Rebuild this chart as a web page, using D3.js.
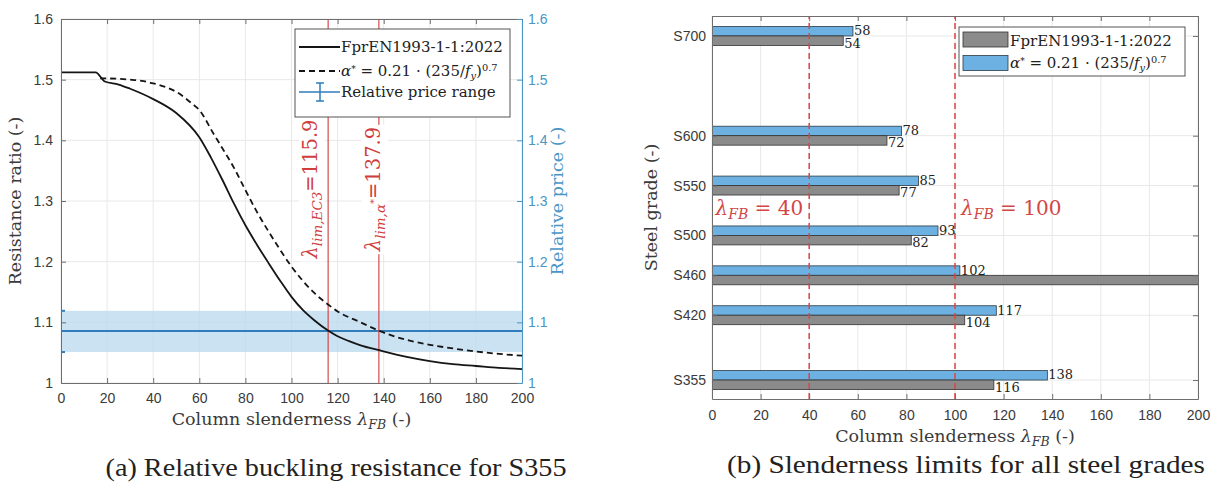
<!DOCTYPE html>
<html>
<head>
<meta charset="utf-8">
<script src="https://d3js.org/d3.v7.min.js"></script>
<style>
body { margin: 0; background: #fff; }
</style>
</head>
<body>
<svg id="fig" width="1216" height="488"></svg>
<script>

// ---------- panel (a) data ----------
var slenderEC3 = [0, 15, 19, 25, 30, 40, 50, 60, 65, 70, 75, 80, 85, 90, 95, 100, 105, 110, 116, 120, 125, 130, 138, 150, 160, 170, 180, 190, 200];
var ratioEC3   = [1.512, 1.512, 1.497, 1.492, 1.485, 1.468, 1.445, 1.405, 1.372, 1.335, 1.296, 1.260, 1.228, 1.198, 1.169, 1.142, 1.120, 1.103, 1.086, 1.077, 1.069, 1.062, 1.054, 1.043, 1.036, 1.031, 1.028, 1.025, 1.023];

var slenderAlpha = [17, 20, 30, 35, 40, 46, 50, 57, 60, 66, 70, 75, 80, 85, 90, 95, 100, 105, 110, 116, 120, 130, 138, 150, 160, 170, 180, 190, 200];
var ratioAlpha   = [1.502, 1.502, 1.500, 1.498, 1.494, 1.487, 1.480, 1.460, 1.450, 1.412, 1.387, 1.355, 1.318, 1.282, 1.250, 1.220, 1.192, 1.168, 1.148, 1.129, 1.118, 1.100, 1.086, 1.071, 1.063, 1.057, 1.052, 1.048, 1.045];

var priceRange = [1.051, 1.0857, 1.119];   // low, mid, high
var lambdaLim = [115.9, 137.9];            // EC3, alpha*
var ratioTicks = [1, 1.1, 1.2, 1.3, 1.4, 1.5, 1.6];
var slenderTicks = [0, 20, 40, 60, 80, 100, 120, 140, 160, 180, 200];

// ---------- panel (b) data ----------
var grades = ["S355", "S420", "S460", "S500", "S550", "S600", "S700"];
var fyValues = [355, 420, 460, 500, 550, 600, 700];
var limitAlpha = [138, 117, 102, 93, 85, 78, 58];
var limitEC3 = [116, 104, 250, 82, 77, 72, 54];   // S460 runs off the scale
var refLambdas = [40, 100];

var serif = "'DejaVu Serif', serif";          // stands in for the LaTeX font
var times = "'Liberation Serif', 'Times New Roman', serif";
var sans = "'Liberation Sans', Arial, sans-serif";
var axisCol = "#6e6e6e", gridCol = "#e8e8e8", textCol = "#3a3a3a";
var blueAxis = "#4a96c6", priceCol = "#2f7dbb", redCol = "#cf3d3d";

var svg = d3.select("#fig");
var defs = svg.append("defs");

// ====================== PANEL (a) ======================
var xa = d3.scaleLinear().domain([0, 200]).range([61, 522]);
var ya = d3.scaleLinear().domain([1, 1.6]).range([383, 19]);
var yp = d3.scaleLinear().domain([1, 1.6]).range([383, 19]);

defs.append("clipPath").attr("id", "clipA")
  .append("rect")
  .attr("x", xa(0)).attr("y", ya(1.6))
  .attr("width", xa(200) - xa(0)).attr("height", ya(1) - ya(1.6));

var ga = svg.append("g");

// grid
ga.append("g").selectAll("line").data(slenderTicks).join("line")
  .attr("x1", d => xa(d)).attr("x2", d => xa(d))
  .attr("y1", ya(1)).attr("y2", ya(1.6))
  .attr("stroke", gridCol);
ga.append("g").selectAll("line").data(ratioTicks).join("line")
  .attr("x1", xa(0)).attr("x2", xa(200))
  .attr("y1", d => ya(d)).attr("y2", d => ya(d))
  .attr("stroke", gridCol);

var plotA = ga.append("g").attr("clip-path", "url(#clipA)");

// relative price band
plotA.append("rect")
  .attr("x", xa(0)).attr("width", xa(200) - xa(0))
  .attr("y", yp(priceRange[2])).attr("height", yp(priceRange[0]) - yp(priceRange[2]))
  .attr("fill", "#b9d8ef").attr("opacity", 0.75);
plotA.append("line")
  .attr("x1", xa(0)).attr("x2", xa(200))
  .attr("y1", yp(priceRange[1])).attr("y2", yp(priceRange[1]))
  .attr("stroke", priceCol).attr("stroke-width", 2);
// error bar at x = 0
plotA.append("line")
  .attr("x1", xa(0)).attr("x2", xa(0))
  .attr("y1", yp(priceRange[0])).attr("y2", yp(priceRange[2]))
  .attr("stroke", priceCol).attr("stroke-width", 2);
plotA.selectAll(".cap").data([priceRange[0], priceRange[2]]).join("line")
  .attr("x1", xa(0) - 4).attr("x2", xa(0) + 4)
  .attr("y1", d => yp(d)).attr("y2", d => yp(d))
  .attr("stroke", priceCol).attr("stroke-width", 2);

// limit lines
plotA.selectAll(".lim").data(lambdaLim).join("line")
  .attr("x1", d => xa(d)).attr("x2", d => xa(d))
  .attr("y1", ya(1)).attr("y2", ya(1.6))
  .attr("stroke", redCol).attr("stroke-width", 1.3).attr("opacity", 0.85);

// curves
var lineA = d3.line().curve(d3.curveMonotoneX);
plotA.append("path")
  .attr("d", lineA(slenderEC3.map((s, i) => [xa(s), ya(ratioEC3[i])])))
  .attr("fill", "none").attr("stroke", "#151515").attr("stroke-width", 1.8);
plotA.append("path")
  .attr("d", lineA(slenderAlpha.map((s, i) => [xa(s), ya(ratioAlpha[i])])))
  .attr("fill", "none").attr("stroke", "#151515").attr("stroke-width", 1.8)
  .attr("stroke-dasharray", "6,4");

// rotated limit labels (white box hides the line behind the text)
var limLabels = [
  {v: lambdaLim[0], sub: "lim,EC3", sup: "", dx: -18},
  {v: lambdaLim[1], sub: "lim,α", sup: "*", dx: -6}
];
limLabels.forEach(function(d) {
  var g = ga.append("g")
    .attr("transform", "translate(" + (xa(d.v) + d.dx) + "," + 189 + ") rotate(-90)");
  var bg = g.append("rect").attr("fill", "#fff");
  var t = g.append("text")
    .attr("text-anchor", "middle").attr("dy", "0.35em")
    .attr("font-family", serif).attr("font-size", 19.5).attr("fill", redCol);
  t.append("tspan").attr("font-style", "italic").text("λ");
  t.append("tspan").attr("font-size", 13.5).attr("font-style", "italic").attr("dy", 5).text(d.sub);
  if (d.sup) t.append("tspan").attr("font-size", 10).attr("dy", -8).text(d.sup);
  t.append("tspan").attr("dy", d.sup ? 3 : -5).text("=" + d.v.toFixed(1));
  var bb = t.node().getBBox();
  bg.attr("x", bb.x - 2).attr("y", bb.y).attr("width", bb.width + 4).attr("height", bb.height);
});

// axes
function styleAxis(g, col, tcol) {
  g.select(".domain").attr("stroke", col);
  g.selectAll(".tick line").attr("stroke", col);
  g.selectAll(".tick text").attr("fill", tcol).attr("font-family", sans).attr("font-size", 14);
}
var fmtR = d => d === 1 ? "1" : d.toFixed(1);
ga.append("g").attr("transform", "translate(0," + ya(1) + ")")
  .call(d3.axisBottom(xa).tickValues(slenderTicks).tickSizeInner(-5).tickSizeOuter(0).tickPadding(10))
  .call(g => styleAxis(g, axisCol, textCol));
ga.append("g").attr("transform", "translate(0," + ya(1.6) + ")")
  .call(d3.axisTop(xa).tickValues(slenderTicks).tickSizeInner(-5).tickSizeOuter(0).tickFormat(""))
  .call(g => styleAxis(g, axisCol, textCol));
ga.append("g").attr("transform", "translate(" + xa(0) + ",0)")
  .call(d3.axisLeft(ya).tickValues(ratioTicks).tickFormat(fmtR).tickSizeInner(-5).tickSizeOuter(0).tickPadding(8))
  .call(g => styleAxis(g, axisCol, textCol));
ga.append("g").attr("transform", "translate(" + xa(200) + ",0)")
  .call(d3.axisRight(yp).tickValues(ratioTicks).tickFormat(fmtR).tickSizeInner(-5).tickSizeOuter(0).tickPadding(6))
  .call(g => styleAxis(g, blueAxis, blueAxis));

// axis titles
function slenderLabel(g, x, y) {
  var t = g.append("text")
    .attr("x", x).attr("y", y)
    .attr("text-anchor", "middle").attr("font-family", serif).attr("font-size", 17.5).attr("fill", textCol);
  t.append("tspan").text("Column slenderness ");
  t.append("tspan").attr("font-style", "italic").text("λ");
  t.append("tspan").attr("font-style", "italic").attr("font-size", 12.5).attr("dy", 4).text("FB");
  t.append("tspan").attr("dy", -4).text(" (-)");
}
slenderLabel(ga, (xa(0) + xa(200)) / 2, 425);

ga.append("text")
  .attr("transform", "translate(21," + ya(1.3) + ") rotate(-90)")
  .attr("text-anchor", "middle").attr("font-family", serif).attr("font-size", 17.5).attr("fill", textCol)
  .text("Resistance ratio (-)");
ga.append("text")
  .attr("transform", "translate(563," + yp(1.3) + ") rotate(-90)")
  .attr("text-anchor", "middle").attr("font-family", serif).attr("font-size", 17.5).attr("fill", blueAxis)
  .text("Relative price (-)");

// legend (a)
var legA = ga.append("g");
legA.append("rect").attr("x", 295).attr("y", 29).attr("width", 215).attr("height", 88)
  .attr("fill", "#fff").attr("stroke", "#555").attr("stroke-width", 1);
var legRows = [47, 71, 92];
legA.append("line").attr("x1", 299).attr("x2", 340).attr("y1", legRows[0]).attr("y2", legRows[0])
  .attr("stroke", "#151515").attr("stroke-width", 1.8);
legA.append("line").attr("x1", 299).attr("x2", 340).attr("y1", legRows[1]).attr("y2", legRows[1])
  .attr("stroke", "#151515").attr("stroke-width", 1.8).attr("stroke-dasharray", "6,4");
legA.append("line").attr("x1", 299).attr("x2", 340).attr("y1", legRows[2]).attr("y2", legRows[2])
  .attr("stroke", priceCol).attr("stroke-width", 1.5);
legA.append("line").attr("x1", 320).attr("x2", 320).attr("y1", legRows[2] - 9).attr("y2", legRows[2] + 9)
  .attr("stroke", priceCol).attr("stroke-width", 1.5);
[-9, 9].forEach(function(o) {
  legA.append("line").attr("x1", 316).attr("x2", 324).attr("y1", legRows[2] + o).attr("y2", legRows[2] + o)
    .attr("stroke", priceCol).attr("stroke-width", 1.5);
});

function alphaText(t) {
  t.append("tspan").attr("font-style", "italic").text("α");
  t.append("tspan").attr("font-size", "0.6em").attr("dy", "-0.45em").text("*");
  t.append("tspan").attr("dy", "0.27em").text(" = 0.21 · (235/");
  t.append("tspan").attr("font-style", "italic").text("f");
  t.append("tspan").attr("font-style", "italic").attr("font-size", "0.65em").attr("dy", "0.3em").text("y");
  t.append("tspan").attr("dy", "-0.2em").text(")");
  t.append("tspan").attr("font-size", "0.65em").attr("dy", "-0.5em").text("0.7");
}
function legText(g, x, y, size) {
  return g.append("text").attr("x", x).attr("y", y).attr("dy", "0.35em")
    .attr("font-family", serif).attr("font-size", size).attr("fill", "#222");
}
legText(legA, 341, legRows[0], 15).text("FprEN1993-1-1:2022");
alphaText(legText(legA, 341, legRows[1], 15));
legText(legA, 341, legRows[2], 15).text("Relative price range");

// caption (a)
ga.append("text").attr("x", 336).attr("y", 476)
  .attr("text-anchor", "middle").attr("font-family", times).attr("font-size", 24.5).attr("fill", "#222")
  .attr("textLength", 461).attr("lengthAdjust", "spacingAndGlyphs")
  .text("(a) Relative buckling resistance for S355");

// ====================== PANEL (b) ======================
var xb = d3.scaleLinear().domain([0, 200]).range([712, 1198]);
var yb = d3.scaleLinear().domain([336, 720]).range([399, 16]);
var barH = 9.5;

defs.append("clipPath").attr("id", "clipB")
  .append("rect")
  .attr("x", xb(0)).attr("y", yb(720))
  .attr("width", xb(200) - xb(0)).attr("height", yb(336) - yb(720));

var gb = svg.append("g");
gb.append("g").selectAll("line").data(slenderTicks).join("line")
  .attr("x1", d => xb(d)).attr("x2", d => xb(d))
  .attr("y1", yb(336)).attr("y2", yb(720))
  .attr("stroke", gridCol);
gb.append("g").selectAll("line").data(fyValues).join("line")
  .attr("x1", xb(0)).attr("x2", xb(200))
  .attr("y1", d => yb(d)).attr("y2", d => yb(d))
  .attr("stroke", gridCol);

var plotB = gb.append("g").attr("clip-path", "url(#clipB)");

plotB.selectAll(".barBlue").data(fyValues).join("rect")
  .attr("x", xb(0)).attr("y", d => yb(d + barH))
  .attr("width", (d, i) => xb(limitAlpha[i]) - xb(0))
  .attr("height", d => yb(d) - yb(d + barH))
  .attr("fill", "#6cb1e1").attr("stroke", "#2d3b45").attr("stroke-width", 0.8);
plotB.selectAll(".barGrey").data(fyValues).join("rect")
  .attr("x", xb(0)).attr("y", d => yb(d))
  .attr("width", (d, i) => xb(limitEC3[i]) - xb(0))
  .attr("height", d => yb(d - barH) - yb(d))
  .attr("fill", "#8b8b8b").attr("stroke", "#333").attr("stroke-width", 0.8);

plotB.selectAll(".ref").data(refLambdas).join("line")
  .attr("x1", d => xb(d)).attr("x2", d => xb(d))
  .attr("y1", yb(336)).attr("y2", yb(720))
  .attr("stroke", "#dd4444").attr("stroke-width", 1.5).attr("stroke-dasharray", "6,4");

// value labels
gb.selectAll(".lblBlue").data(fyValues).join("text")
  .attr("x", (d, i) => xb(limitAlpha[i]) + 1).attr("y", d => yb(d + barH / 2) - 0.5)
  .attr("dy", "0.35em").attr("font-family", serif).attr("font-size", 13).attr("fill", "#222")
  .text((d, i) => limitAlpha[i]);
gb.selectAll(".lblGrey").data(fyValues.filter((d, i) => limitEC3[i] <= 200)).join("text")
  .attr("x", d => xb(limitEC3[fyValues.indexOf(d)]) + 1).attr("y", d => yb(d - barH / 2) + 2.5)
  .attr("dy", "0.35em").attr("font-family", serif).attr("font-size", 13).attr("fill", "#222")
  .text(d => limitEC3[fyValues.indexOf(d)]);

// reference labels
refLambdas.forEach(function(v, i) {
  var t = gb.append("text")
    .attr("x", i === 0 ? xb(v) - 6 : xb(v) + 6).attr("y", yb(527) + 7)
    .attr("text-anchor", i === 0 ? "end" : "start")
    .attr("font-family", serif).attr("font-size", 20).attr("fill", "#d24646");
  t.append("tspan").attr("font-style", "italic").text("λ");
  t.append("tspan").attr("font-style", "italic").attr("font-size", 14).attr("dy", 4).text("FB");
  t.append("tspan").attr("dy", -4).text(" = " + v);
});

// axes (b)
gb.append("g").attr("transform", "translate(0," + yb(336) + ")")
  .call(d3.axisBottom(xb).tickValues(slenderTicks).tickSizeInner(-5).tickSizeOuter(0).tickPadding(11))
  .call(g => styleAxis(g, axisCol, textCol));
gb.append("g").attr("transform", "translate(0," + yb(720) + ")")
  .call(d3.axisTop(xb).tickValues(slenderTicks).tickSizeInner(-5).tickSizeOuter(0).tickFormat(""))
  .call(g => styleAxis(g, axisCol, textCol));
gb.append("g").attr("transform", "translate(" + xb(0) + ",0)")
  .call(d3.axisLeft(yb).tickValues(fyValues).tickFormat((d, i) => grades[i]).tickSizeInner(-5).tickSizeOuter(0).tickPadding(6))
  .call(g => styleAxis(g, axisCol, textCol));
gb.append("g").attr("transform", "translate(" + xb(200) + ",0)")
  .call(d3.axisRight(yb).tickValues(fyValues).tickSizeInner(-5).tickSizeOuter(0).tickFormat(""))
  .call(g => styleAxis(g, axisCol, textCol));

slenderLabel(gb, (xb(0) + xb(200)) / 2, 442);

gb.append("text")
  .attr("transform", "translate(657," + ((yb(336) + yb(720)) / 2) + ") rotate(-90)")
  .attr("text-anchor", "middle").attr("font-family", serif).attr("font-size", 17.5).attr("fill", textCol)
  .text("Steel grade (-)");

// legend (b)
var legB = gb.append("g");
legB.append("rect").attr("x", 959).attr("y", 27).attr("width", 226).attr("height", 49)
  .attr("fill", "#fff").attr("stroke", "#555").attr("stroke-width", 1);
legB.append("rect").attr("x", 963).attr("y", 32).attr("width", 45).attr("height", 15)
  .attr("fill", "#8b8b8b").attr("stroke", "#333").attr("stroke-width", 0.8);
legB.append("rect").attr("x", 963).attr("y", 55.5).attr("width", 45).attr("height", 15)
  .attr("fill", "#6cb1e1").attr("stroke", "#2d3b45").attr("stroke-width", 0.8);
legText(legB, 1010, 40.5, 15).text("FprEN1993-1-1:2022");
alphaText(legText(legB, 1010, 63, 15));

gb.append("text").attr("x", 966).attr("y", 473)
  .attr("text-anchor", "middle").attr("font-family", times).attr("font-size", 24.5).attr("fill", "#222")
  .attr("textLength", 478).attr("lengthAdjust", "spacingAndGlyphs")
  .text("(b) Slenderness limits for all steel grades");

</script>
</body>
</html>
